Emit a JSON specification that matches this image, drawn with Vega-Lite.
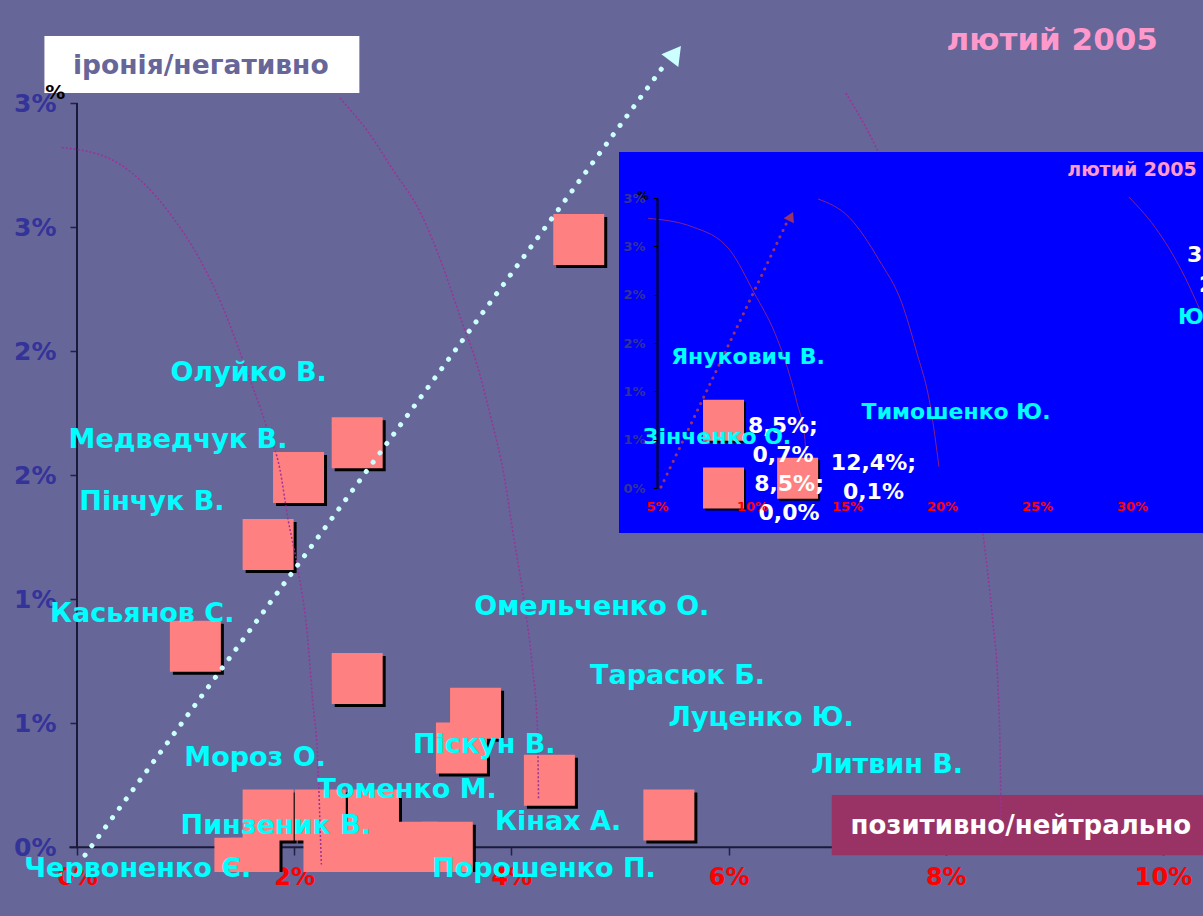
{
  "$schema": "https://vega.github.io/schema/vega-lite/v6.json",
  "width": 1086,
  "height": 769,
  "autosize": {"type": "none"},
  "padding": {"left": 77, "top": 103, "right": 40, "bottom": 44},
  "background": "#666699",
  "config": {"view": {"stroke": null}, "font": "DejaVu Sans", "axis": {"grid": false}},
  "datasets": {
    "pts": [
      {"name": "", "x": 4.62, "y": 2.45, "lx": null, "ly": null},
      {"name": "Олуйко В.", "x": 2.58, "y": 1.63, "lx": 1.58, "ly": 1.91},
      {"name": "Медведчук В.", "x": 2.04, "y": 1.49, "lx": 0.93, "ly": 1.64},
      {"name": "Пінчук В.", "x": 1.76, "y": 1.22, "lx": 0.69, "ly": 1.39},
      {"name": "Касьянов С.", "x": 1.09, "y": 0.81, "lx": 0.6, "ly": 0.94},
      {"name": "Омельченко О.", "x": 2.58, "y": 0.68, "lx": 4.74, "ly": 0.97},
      {"name": "Тарасюк Б.", "x": 3.67, "y": 0.54, "lx": 5.53, "ly": 0.69},
      {"name": "Піскун В.", "x": 3.54, "y": 0.4, "lx": 3.75, "ly": 0.41},
      {"name": "Кінах А.", "x": 4.35, "y": 0.27, "lx": 4.43, "ly": 0.1},
      {"name": "Луценко Ю.", "x": 5.45, "y": 0.13, "lx": 6.3, "ly": 0.52},
      {"name": "Мороз О.", "x": 1.76, "y": 0.13, "lx": 1.64, "ly": 0.36},
      {"name": "Пинзеник В.", "x": 2.24, "y": 0.13, "lx": 1.83, "ly": 0.085},
      {"name": "Томенко М.", "x": 2.73, "y": 0.13, "lx": 3.04, "ly": 0.23},
      {"name": "Порошенко П.", "x": 2.32, "y": 0.0, "lx": 4.3, "ly": -0.089},
      {"name": "Литвин В.", "x": 2.71, "y": 0.0, "lx": 7.46, "ly": 0.33},
      {"name": "", "x": 3.09, "y": 0.0, "lx": null, "ly": null},
      {"name": "", "x": 3.41, "y": 0.0, "lx": null, "ly": null},
      {"name": "Червоненко Є.", "x": 1.5, "y": -0.065, "lx": 0.56, "ly": -0.089},
      {"name": "", "x": 1.63, "y": -0.065, "lx": null, "ly": null}
    ],
    "arcs": [
      {"arc": 1, "i": 1, "x": -0.14, "y": 2.82}, {"arc": 1, "i": 2, "x": 0.28, "y": 2.78},
      {"arc": 1, "i": 3, "x": 0.58, "y": 2.69}, {"arc": 1, "i": 4, "x": 0.88, "y": 2.54},
      {"arc": 1, "i": 5, "x": 1.13, "y": 2.37}, {"arc": 1, "i": 6, "x": 1.34, "y": 2.18},
      {"arc": 1, "i": 7, "x": 1.53, "y": 1.96}, {"arc": 1, "i": 8, "x": 1.75, "y": 1.69},
      {"arc": 1, "i": 9, "x": 1.87, "y": 1.52}, {"arc": 1, "i": 10, "x": 1.94, "y": 1.33},
      {"arc": 1, "i": 11, "x": 2.03, "y": 1.13}, {"arc": 1, "i": 12, "x": 2.12, "y": 0.86},
      {"arc": 1, "i": 13, "x": 2.17, "y": 0.59}, {"arc": 1, "i": 14, "x": 2.22, "y": 0.32},
      {"arc": 1, "i": 15, "x": 2.24, "y": 0.06}, {"arc": 1, "i": 16, "x": 2.25, "y": -0.07},
      {"arc": 2, "i": 1, "x": 2.42, "y": 3.02}, {"arc": 2, "i": 2, "x": 2.67, "y": 2.89},
      {"arc": 2, "i": 3, "x": 2.91, "y": 2.73}, {"arc": 2, "i": 4, "x": 3.16, "y": 2.56},
      {"arc": 2, "i": 5, "x": 3.37, "y": 2.34}, {"arc": 2, "i": 6, "x": 3.55, "y": 2.11},
      {"arc": 2, "i": 7, "x": 3.68, "y": 1.95}, {"arc": 2, "i": 8, "x": 3.8, "y": 1.75},
      {"arc": 2, "i": 9, "x": 3.94, "y": 1.48}, {"arc": 2, "i": 10, "x": 4.01, "y": 1.28},
      {"arc": 2, "i": 11, "x": 4.11, "y": 1.01}, {"arc": 2, "i": 12, "x": 4.19, "y": 0.74},
      {"arc": 2, "i": 13, "x": 4.24, "y": 0.47}, {"arc": 2, "i": 14, "x": 4.25, "y": 0.19},
      {"arc": 3, "i": 1, "x": 7.08, "y": 3.04}, {"arc": 3, "i": 2, "x": 7.38, "y": 2.8},
      {"arc": 3, "i": 3, "x": 7.8, "y": 2.3}, {"arc": 3, "i": 4, "x": 8.1, "y": 1.8},
      {"arc": 3, "i": 5, "x": 8.34, "y": 1.27}, {"arc": 3, "i": 6, "x": 8.43, "y": 0.92},
      {"arc": 3, "i": 7, "x": 8.48, "y": 0.65}, {"arc": 3, "i": 8, "x": 8.5, "y": 0.38},
      {"arc": 3, "i": 9, "x": 8.51, "y": 0.02}
    ],
    "ipts": [
      {"name": "Янукович В.", "x": 8.5, "y": 0.7, "lx": 9.79, "ly": 1.355, "val": "8,5%;\n0,7%", "vx": 11.63, "vy": 0.64},
      {"name": "Тимошенко Ю.", "x": 12.4, "y": 0.1, "lx": 20.74, "ly": 0.79, "val": "12,4%;\n0,1%", "vx": 16.39, "vy": 0.26},
      {"name": "Зінченко О.", "x": 8.5, "y": 0.0, "lx": 8.16, "ly": 0.53, "val": "8,5%;\n0,0%", "vx": 11.95, "vy": 0.04}
    ],
    "iarcs": [
      {"arc": 1, "i": 1, "x": 4.53, "y": 2.79}, {"arc": 1, "i": 2, "x": 6.89, "y": 2.7},
      {"arc": 1, "i": 3, "x": 8.84, "y": 2.46}, {"arc": 1, "i": 4, "x": 10.11, "y": 2.02},
      {"arc": 1, "i": 5, "x": 11.21, "y": 1.6}, {"arc": 1, "i": 6, "x": 11.79, "y": 1.29},
      {"arc": 1, "i": 7, "x": 12.37, "y": 0.88}, {"arc": 1, "i": 8, "x": 12.79, "y": 0.5},
      {"arc": 1, "i": 9, "x": 12.84, "y": 0.05},
      {"arc": 2, "i": 1, "x": 13.47, "y": 2.99}, {"arc": 2, "i": 2, "x": 15.11, "y": 2.8},
      {"arc": 2, "i": 3, "x": 16.68, "y": 2.36}, {"arc": 2, "i": 4, "x": 17.89, "y": 1.91},
      {"arc": 2, "i": 5, "x": 18.63, "y": 1.43}, {"arc": 2, "i": 6, "x": 19.42, "y": 0.81},
      {"arc": 2, "i": 7, "x": 19.84, "y": 0.22},
      {"arc": 3, "i": 1, "x": 29.84, "y": 3.01}, {"arc": 3, "i": 2, "x": 31.42, "y": 2.64},
      {"arc": 3, "i": 3, "x": 32.79, "y": 2.18}, {"arc": 3, "i": 4, "x": 33.58, "y": 1.84}
    ]
  },
  "layer": [
    {
      "layer": [
        {
          "data": {"values": [{"x": 0, "y": 0, "y2": 3}]},
          "mark": {"type": "rule", "color": "#1a1a3a", "strokeWidth": 2},
          "encoding": {
            "x": {"field": "x", "type": "quantitative", "title": null,
              "scale": {"domain": [0, 10], "nice": false, "zero": false},
              "axis": {"orient": "bottom", "offset": -25, "values": [0, 2, 4, 6, 8, 10], "domain": false,
                "tickSize": 8, "tickColor": "#222244", "tickWidth": 1.5, "labelColor": "#FF0000", "labelFontSize": 24,
                "labelFontWeight": "bold", "labelPadding": 10, "labelFlush": false, "labelExpr": "datum.value + '%'", "title": null}},
            "y": {"field": "y", "type": "quantitative", "title": null,
              "scale": {"domain": [-0.1, 3], "nice": false, "zero": false},
              "axis": {"orient": "left", "values": [0, 0.5, 1, 1.5, 2, 2.5, 3], "domain": false,
                "tickSize": 7, "tickColor": "#222244", "tickWidth": 1.5, "labelColor": "#333399", "labelFontSize": 25,
                "labelFontWeight": "bold", "labelPadding": 14, "labelExpr": "round(datum.value) + '%'", "title": null}},
            "y2": {"field": "y2"}
          }
        },
        {
          "data": {"values": [{"x": -0.07, "x2": 10, "y": 0}]},
          "mark": {"type": "rule", "color": "#1a1a3a", "strokeWidth": 2},
          "encoding": {
            "x": {"field": "x", "type": "quantitative", "title": null},
            "x2": {"field": "x2"},
            "y": {"field": "y", "type": "quantitative", "title": null}
          }
        },
        {
          "data": {"values": [{"x": -0.3, "x2": 2.6, "y": 3.04, "y2": 3.27}]},
          "mark": {"type": "rect", "color": "#FFFFFF"},
          "encoding": {
            "x": {"field": "x", "type": "quantitative", "title": null}, "x2": {"field": "x2"},
            "y": {"field": "y", "type": "quantitative", "title": null}, "y2": {"field": "y2"}
          }
        },
        {
          "data": {"values": [{"x": 6.95, "x2": 10.4, "y": -0.032, "y2": 0.21}]},
          "mark": {"type": "rect", "color": "#993366"},
          "encoding": {
            "x": {"field": "x", "type": "quantitative", "title": null}, "x2": {"field": "x2"},
            "y": {"field": "y", "type": "quantitative", "title": null}, "y2": {"field": "y2"}
          }
        },
        {
          "data": {"name": "pts"},
          "mark": {"type": "point", "shape": "square", "filled": true, "opacity": 1, "size": 2600, "color": "#000000", "xOffset": 3, "yOffset": 3, "clip": true},
          "encoding": {
            "x": {"field": "x", "type": "quantitative", "title": null},
            "y": {"field": "y", "type": "quantitative", "title": null}
          }
        },
        {
          "data": {"name": "pts"},
          "mark": {"type": "point", "shape": "square", "filled": true, "opacity": 1, "size": 2600, "color": "#FF8080", "clip": true},
          "encoding": {
            "x": {"field": "x", "type": "quantitative", "title": null},
            "y": {"field": "y", "type": "quantitative", "title": null}
          }
        },
        {
          "data": {"name": "arcs"},
          "mark": {"type": "line", "color": "#993399", "strokeWidth": 1.5, "strokeDash": [2, 2], "interpolate": "monotone"},
          "encoding": {
            "x": {"field": "x", "type": "quantitative", "title": null},
            "y": {"field": "y", "type": "quantitative", "title": null},
            "detail": {"field": "arc"},
            "order": {"field": "i", "type": "quantitative"}
          }
        },
        {
          "data": {"values": [{"x": 0.074, "y": -0.032}, {"x": 5.42, "y": 3.16}]},
          "mark": {"type": "line", "color": "#CCFFFF", "strokeWidth": 5, "strokeCap": "round", "strokeDash": [0.1, 11.5]},
          "encoding": {
            "x": {"field": "x", "type": "quantitative", "title": null},
            "y": {"field": "y", "type": "quantitative", "title": null}
          }
        },
        {
          "data": {"values": [{"x": 5.51, "y": 3.2}]},
          "mark": {"type": "point", "shape": "triangle-up", "filled": true, "opacity": 1, "size": 450, "angle": 37, "color": "#CCFFFF"},
          "encoding": {
            "x": {"field": "x", "type": "quantitative", "title": null},
            "y": {"field": "y", "type": "quantitative", "title": null}
          }
        },
        {
          "data": {"name": "pts"},
          "transform": [{"filter": "datum.name != ''"}],
          "mark": {"type": "text", "color": "#00FFFF", "fontSize": 27, "fontWeight": "bold", "align": "center", "baseline": "middle"},
          "encoding": {
            "x": {"field": "lx", "type": "quantitative", "title": null},
            "y": {"field": "ly", "type": "quantitative", "title": null},
            "text": {"field": "name"}
          }
        },
        {
          "data": {"values": [{"t": "іронія/негативно", "x": 1.14, "y": 3.15}]},
          "mark": {"type": "text", "color": "#666699", "fontSize": 26.5, "fontWeight": "bold", "align": "center", "baseline": "middle"},
          "encoding": {
            "x": {"field": "x", "type": "quantitative", "title": null},
            "y": {"field": "y", "type": "quantitative", "title": null},
            "text": {"field": "t"}
          }
        },
        {
          "data": {"values": [{"t": "позитивно/нейтрально", "x": 8.69, "y": 0.085}]},
          "mark": {"type": "text", "color": "#FFFFFF", "fontSize": 26, "fontWeight": "bold", "align": "center", "baseline": "middle"},
          "encoding": {
            "x": {"field": "x", "type": "quantitative", "title": null},
            "y": {"field": "y", "type": "quantitative", "title": null},
            "text": {"field": "t"}
          }
        },
        {
          "data": {"values": [{"t": "лютий 2005", "x": 8.98, "y": 3.25}]},
          "mark": {"type": "text", "color": "#FF99CC", "fontSize": 31, "fontWeight": "bold", "align": "center", "baseline": "middle"},
          "encoding": {
            "x": {"field": "x", "type": "quantitative", "title": null},
            "y": {"field": "y", "type": "quantitative", "title": null},
            "text": {"field": "t"}
          }
        },
        {
          "data": {"values": [{"t": "%", "x": -0.2, "y": 3.04}]},
          "mark": {"type": "text", "color": "#000000", "fontSize": 20, "fontWeight": "bold", "align": "center", "baseline": "middle"},
          "encoding": {
            "x": {"field": "x", "type": "quantitative", "title": null},
            "y": {"field": "y", "type": "quantitative", "title": null},
            "text": {"field": "t"}
          }
        }
      ]
    },
    {
      "layer": [
        {
          "data": {"values": [{"x": 3.0, "x2": 33.8, "y": 3.476, "y2": -0.466}]},
          "mark": {"type": "rect", "color": "#0000FF"},
          "encoding": {
            "x": {"field": "x", "type": "quantitative", "title": null,
              "scale": {"domain": [5, 30], "range": [580, 1055], "nice": false, "zero": false},
              "axis": {"orient": "bottom", "offset": -384, "values": [5, 10, 15, 20, 25, 30], "domain": false, "ticks": false,
                "labelColor": "#FF0000", "labelFontSize": 13, "labelFontWeight": "bold", "labelPadding": 12, "labelFlush": false,
                "labelExpr": "datum.value + '%'", "title": null, "zindex": 1}},
            "x2": {"field": "x2"},
            "y": {"field": "y", "type": "quantitative", "title": null,
              "scale": {"domain": [0, 3], "range": [385, 95], "nice": false, "zero": false},
              "axis": {"orient": "left", "offset": -580, "values": [0, 0.5, 1, 1.5, 2, 2.5, 3], "domain": true, "domainColor": "#000000",
                "domainWidth": 2, "tickSize": 4, "tickColor": "#000000", "labelColor": "#333399", "labelFontSize": 13,
                "labelFontWeight": "bold", "labelPadding": 8, "labelExpr": "round(datum.value) + '%'", "title": null, "zindex": 1}},
            "y2": {"field": "y2"}
          }
        },
        {
          "data": {"name": "iarcs"},
          "mark": {"type": "line", "color": "#882288", "strokeWidth": 1, "interpolate": "monotone"},
          "encoding": {
            "x": {"field": "x", "type": "quantitative", "title": null},
            "y": {"field": "y", "type": "quantitative", "title": null},
            "detail": {"field": "arc"},
            "order": {"field": "i", "type": "quantitative"}
          }
        },
        {
          "data": {"values": [{"x": 5.21, "y": 0.01}, {"x": 11.84, "y": 2.75}]},
          "mark": {"type": "line", "color": "#993366", "strokeWidth": 3, "strokeCap": "round", "strokeDash": [0.1, 7]},
          "encoding": {
            "x": {"field": "x", "type": "quantitative", "title": null},
            "y": {"field": "y", "type": "quantitative", "title": null}
          }
        },
        {
          "data": {"values": [{"x": 12.05, "y": 2.81}]},
          "mark": {"type": "point", "shape": "triangle-up", "filled": true, "opacity": 1, "size": 130, "angle": 26, "color": "#993366"},
          "encoding": {
            "x": {"field": "x", "type": "quantitative", "title": null},
            "y": {"field": "y", "type": "quantitative", "title": null}
          }
        },
        {
          "data": {"name": "ipts"},
          "mark": {"type": "point", "shape": "square", "filled": true, "opacity": 1, "size": 1681, "color": "#000000", "xOffset": 2, "yOffset": 2},
          "encoding": {
            "x": {"field": "x", "type": "quantitative", "title": null},
            "y": {"field": "y", "type": "quantitative", "title": null}
          }
        },
        {
          "data": {"name": "ipts"},
          "mark": {"type": "point", "shape": "square", "filled": true, "opacity": 1, "size": 1681, "color": "#FF8080"},
          "encoding": {
            "x": {"field": "x", "type": "quantitative", "title": null},
            "y": {"field": "y", "type": "quantitative", "title": null}
          }
        },
        {
          "data": {"name": "ipts"},
          "mark": {"type": "text", "color": "#FFFFFF", "fontSize": 22, "fontWeight": "bold", "align": "center", "baseline": "middle", "lineBreak": "\n", "lineHeight": 29},
          "encoding": {
            "x": {"field": "vx", "type": "quantitative", "title": null},
            "y": {"field": "vy", "type": "quantitative", "title": null},
            "text": {"field": "val"}
          }
        },
        {
          "data": {"name": "ipts"},
          "mark": {"type": "text", "color": "#00FFFF", "fontSize": 22, "fontWeight": "bold", "align": "center", "baseline": "middle"},
          "encoding": {
            "x": {"field": "lx", "type": "quantitative", "title": null},
            "y": {"field": "ly", "type": "quantitative", "title": null},
            "text": {"field": "name"}
          }
        },
        {
          "data": {"values": [{"t": "35,2%;\n2,3%", "x": 35.13, "y": 2.41}]},
          "mark": {"type": "text", "color": "#FFFFFF", "fontSize": 22, "fontWeight": "bold", "align": "center", "baseline": "middle", "lineBreak": "\n", "lineHeight": 30},
          "encoding": {
            "x": {"field": "x", "type": "quantitative", "title": null},
            "y": {"field": "y", "type": "quantitative", "title": null},
            "text": {"field": "t"}
          }
        },
        {
          "data": {"values": [{"t": "Ющенко В.", "x": 32.42, "y": 1.77}]},
          "mark": {"type": "text", "color": "#00FFFF", "fontSize": 22, "fontWeight": "bold", "align": "left", "baseline": "middle"},
          "encoding": {
            "x": {"field": "x", "type": "quantitative", "title": null},
            "y": {"field": "y", "type": "quantitative", "title": null},
            "text": {"field": "t"}
          }
        },
        {
          "data": {"values": [{"t": "лютий 2005", "x": 30.0, "y": 3.29}]},
          "mark": {"type": "text", "color": "#FF99CC", "fontSize": 19, "fontWeight": "bold", "align": "center", "baseline": "middle"},
          "encoding": {
            "x": {"field": "x", "type": "quantitative", "title": null},
            "y": {"field": "y", "type": "quantitative", "title": null},
            "text": {"field": "t"}
          }
        },
        {
          "data": {"values": [{"t": "%", "x": 4.26, "y": 3.02}]},
          "mark": {"type": "text", "color": "#000000", "fontSize": 12, "fontWeight": "bold", "align": "center", "baseline": "middle"},
          "encoding": {
            "x": {"field": "x", "type": "quantitative", "title": null},
            "y": {"field": "y", "type": "quantitative", "title": null},
            "text": {"field": "t"}
          }
        }
      ]
    }
  ],
  "resolve": {"scale": {"x": "independent", "y": "independent"}}
}
